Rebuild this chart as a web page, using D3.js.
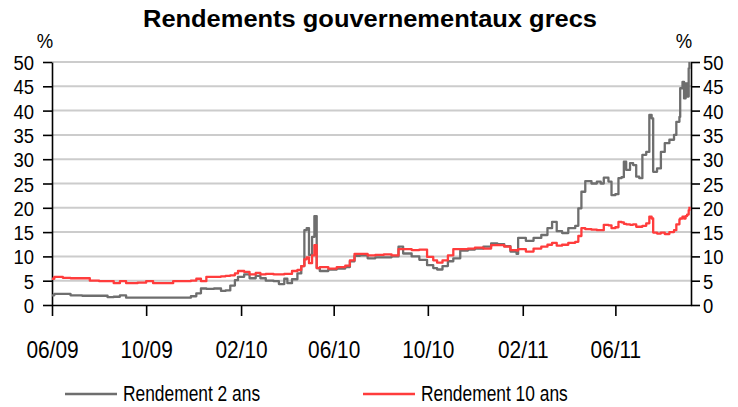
<!DOCTYPE html>
<meta charset="utf-8">
<style>
body { margin: 0; background: #fff; }
.grid line { stroke: #cccccc; stroke-width: 2px; }
.axis path, .axis line { stroke: #000; stroke-width: 1.6px; fill: none; }
.axis text { font-family: "Liberation Sans", Arial, sans-serif; fill: #000; }
.line { fill: none; stroke-width: 2.3px; stroke-linejoin: round; }
.title { font: bold 23px "Liberation Sans", Arial, sans-serif; }
.legend text, .unit { font-family: "Liberation Sans", Arial, sans-serif; font-size: 22px; fill: #000; }
</style>
<body>
<script src="https://d3js.org/d3.v7.min.js"></script>
<script>

const width = 738;
const height = 407;

// data (yields in %)
const dates = [
  "2009-06-01","2009-06-04","2009-06-15","2009-06-25","2009-07-10","2009-07-20","2009-08-01","2009-08-12",
  "2009-08-20","2009-08-28","2009-09-05","2009-09-20","2009-10-01","2009-10-10","2009-10-25","2009-11-05",
  "2009-11-20","2009-11-28","2009-12-05","2009-12-11","2009-12-18","2009-12-28","2010-01-06","2010-01-12",
  "2010-01-18","2010-01-24","2010-01-28","2010-02-05","2010-02-12","2010-02-20","2010-02-26","2010-03-05",
  "2010-03-15","2010-03-22","2010-03-29","2010-04-02","2010-04-08","2010-04-15","2010-04-20","2010-04-24",
  "2010-04-27","2010-04-30","2010-05-04","2010-05-07","2010-05-10","2010-05-14","2010-05-25","2010-06-05",
  "2010-06-16","2010-06-22","2010-06-28","2010-07-05","2010-07-15","2010-07-25","2010-08-05","2010-08-15",
  "2010-08-24","2010-08-30","2010-09-10","2010-09-20","2010-09-30","2010-10-08","2010-10-13","2010-10-20",
  "2010-10-27","2010-11-03","2010-11-12","2010-11-22","2010-12-01","2010-12-12","2010-12-22","2010-12-30",
  "2011-01-08","2011-01-16","2011-01-24","2011-01-26","2011-02-05","2011-02-15","2011-02-25","2011-03-05",
  "2011-03-11","2011-03-17","2011-03-24","2011-04-01","2011-04-10","2011-04-14","2011-04-18","2011-04-23",
  "2011-05-01","2011-05-08","2011-05-13","2011-05-17","2011-05-23","2011-05-27","2011-06-01","2011-06-05",
  "2011-06-09","2011-06-12","2011-06-15","2011-06-20","2011-06-24","2011-06-28","2011-07-02","2011-07-06",
  "2011-07-11","2011-07-15","2011-07-18","2011-07-20","2011-07-25","2011-07-30","2011-08-04","2011-08-10",
  "2011-08-16","2011-08-19","2011-08-23","2011-08-24","2011-08-27","2011-08-29","2011-08-31","2011-09-02",
  "2011-09-04","2011-09-05"
];

const yield2 = [
  2.0, 2.3, 2.3, 2.0, 1.9, 1.9, 1.9, 1.6,
  1.7, 2.0, 1.5, 1.5, 1.5, 1.5, 1.5, 1.5,
  1.5, 1.8, 2.4, 3.4, 3.3, 3.4, 2.9, 3.0,
  4.0, 5.1, 5.8, 6.3, 5.5, 6.0, 5.5, 5.0,
  4.9, 4.3, 5.4, 4.5, 5.3, 6.5, 8.0, 15.4,
  15.8, 10.3, 14.0, 18.3, 7.6, 7.0, 7.3, 7.5,
  7.8, 9.0, 10.1, 10.2, 9.6, 9.8, 9.8, 10.0,
  12.0, 10.6, 10.0, 9.3, 8.2, 7.6, 7.3, 8.0,
  9.0, 9.6, 11.2, 11.4, 11.6, 12.0, 12.7, 12.5,
  12.1, 11.0, 10.5, 13.8, 13.2, 13.8, 14.4, 15.8,
  17.1, 15.2, 14.8, 15.8, 16.3, 19.9, 23.3, 25.5,
  25.0, 25.4, 25.0, 26.2, 25.4, 22.6, 22.8, 26.1,
  26.3, 29.5, 27.8, 29.2, 28.8, 26.4, 26.1, 30.9,
  31.5, 39.1, 38.4, 27.4, 28.1, 31.5, 33.3, 34.0,
  35.0, 37.7, 38.7, 44.6, 45.9, 42.5, 45.6, 42.9,
  48.7, 50.0
];

const yield10 = [
  5.4, 5.8, 5.6, 5.5, 5.5, 5.0, 4.9, 4.9,
  4.5, 4.9, 4.5, 4.6, 4.9, 4.5, 4.5, 4.9,
  4.9, 5.0, 5.4, 4.9, 5.8, 5.8, 5.9, 6.0,
  6.1, 6.5, 7.0, 6.8, 6.3, 6.6, 6.3, 6.4,
  6.3, 6.3, 6.4, 6.4, 7.0, 7.2, 8.0, 9.4,
  9.8, 8.6, 10.2, 12.3, 7.6, 7.8, 7.5, 7.8,
  8.1, 9.2, 10.5, 10.5, 10.2, 10.3, 10.4, 10.2,
  11.5, 11.5, 11.3, 11.4, 9.9, 9.2, 8.7, 9.2,
  10.2, 11.5, 11.5, 11.6, 11.8, 11.6, 12.3, 12.3,
  12.0, 11.3, 11.2, 11.5, 11.0, 11.6, 12.0, 12.4,
  12.8, 12.2, 12.4, 12.8, 13.0, 14.2, 15.8, 15.6,
  15.5, 15.4, 15.4, 16.5, 16.4, 15.8, 16.0, 17.1,
  17.0, 16.7, 16.6, 16.5, 16.6, 16.1, 16.1, 16.3,
  16.8, 18.2, 17.8, 14.9, 14.7, 14.9, 14.6, 15.0,
  15.4, 16.6, 17.6, 17.8, 18.2, 17.8, 18.3, 18.6,
  19.5, 20.2
];

const xTickDates = ["2009-06-01","2009-10-01","2010-02-01","2010-06-01","2010-10-01","2011-02-01","2011-06-01"];
const xTickLabels = ["06/09","10/09","02/10","06/10","10/10","02/11","06/11"];
const yTicks = [0, 5, 10, 15, 20, 25, 30, 35, 40, 45, 50];

const seriesNames = ["Rendement 2 ans", "Rendement 10 ans"];
const seriesColors = ["#6e6e6e", "#ff3c3c"];

const parse = d3.timeParse("%Y-%m-%d");

const margin = {left: 52, right: 47, top: 62, bottom: 102};

const x = d3.scaleTime()
    .domain([parse("2009-06-01"), parse("2011-09-07")])
    .range([margin.left, width - margin.right]);

const y = d3.scaleLinear()
    .domain([0, 50])
    .range([height - margin.bottom, margin.top]);

const svg = d3.select("body").append("svg")
    .attr("width", width)
    .attr("height", height);

svg.append("text")
    .attr("class", "title")
    .attr("x", 143)
    .attr("y", 27)
    .attr("textLength", 454)
    .attr("lengthAdjust", "spacingAndGlyphs")
    .text("Rendements gouvernementaux grecs");

// gridlines
svg.append("g")
    .attr("class", "grid")
  .selectAll("line")
    .data(yTicks.filter(d => d > 0))
  .enter().append("line")
    .attr("x1", x.range()[0])
    .attr("x2", x.range()[1])
    .attr("y1", d => y(d))
    .attr("y2", d => y(d));

// narrow look: squeeze the text horizontally
const ySqueeze = 0.88;

const yLeft = svg.append("g")
    .attr("class", "axis")
    .attr("transform", `translate(${x.range()[0]},0)`)
    .call(d3.axisLeft(y).tickValues(yTicks).tickSize(9).tickPadding(11.5).tickSizeOuter(0));
yLeft.selectAll("text").style("font-size", "21px").attr("dy", "0.36em")
    .attr("transform", `scale(${ySqueeze},1)`);

const yRight = svg.append("g")
    .attr("class", "axis")
    .attr("transform", `translate(${x.range()[1]},0)`)
    .call(d3.axisRight(y).tickValues(yTicks).tickSize(9).tickPadding(4.6).tickSizeOuter(0));
yRight.selectAll("text").style("font-size", "21px").attr("dy", "0.36em")
    .attr("transform", `scale(${ySqueeze},1)`);

svg.append("text").attr("class", "unit")
    .attr("transform", "translate(45,48) scale(0.88,1)")
    .attr("text-anchor", "middle").style("font-size", "21px").text("%");
svg.append("text").attr("class", "unit")
    .attr("transform", "translate(684,48) scale(0.88,1)")
    .attr("text-anchor", "middle").style("font-size", "21px").text("%");

// x axis
const xAxis = svg.append("g")
    .attr("class", "axis")
    .attr("transform", `translate(0,${y(0)})`)
    .call(d3.axisBottom(x)
        .tickValues(xTickDates.map(parse))
        .tickFormat((d, i) => xTickLabels[i])
        .tickSize(11).tickPadding(25).tickSizeOuter(0));
xAxis.selectAll("text").style("font-size", "24px")
    .attr("transform", "scale(0.87,1)");

// lines
const series = [yield2, yield10];
const line = d3.line()
    .x((d, i) => x(parse(dates[i])))
    .y(d => y(d))
    .curve(d3.curveStepAfter);

svg.selectAll(".line")
    .data(series)
  .enter().append("path")
    .attr("class", "line")
    .attr("stroke", (d, i) => seriesColors[i])
    .attr("d", line);

// legend
const legendX = [65, 363];
const legend = svg.append("g").attr("class", "legend")
  .selectAll("g")
    .data(seriesNames)
  .enter().append("g")
    .attr("transform", (d, i) => `translate(${legendX[i]},394)`);

legend.append("line")
    .attr("x1", 0).attr("x2", 52)
    .attr("stroke", (d, i) => seriesColors[i])
    .attr("stroke-width", 2.3);

legend.append("text")
    .attr("transform", "translate(58,7) scale(0.79,1)")
    .text(d => d);

</script>
</body>
